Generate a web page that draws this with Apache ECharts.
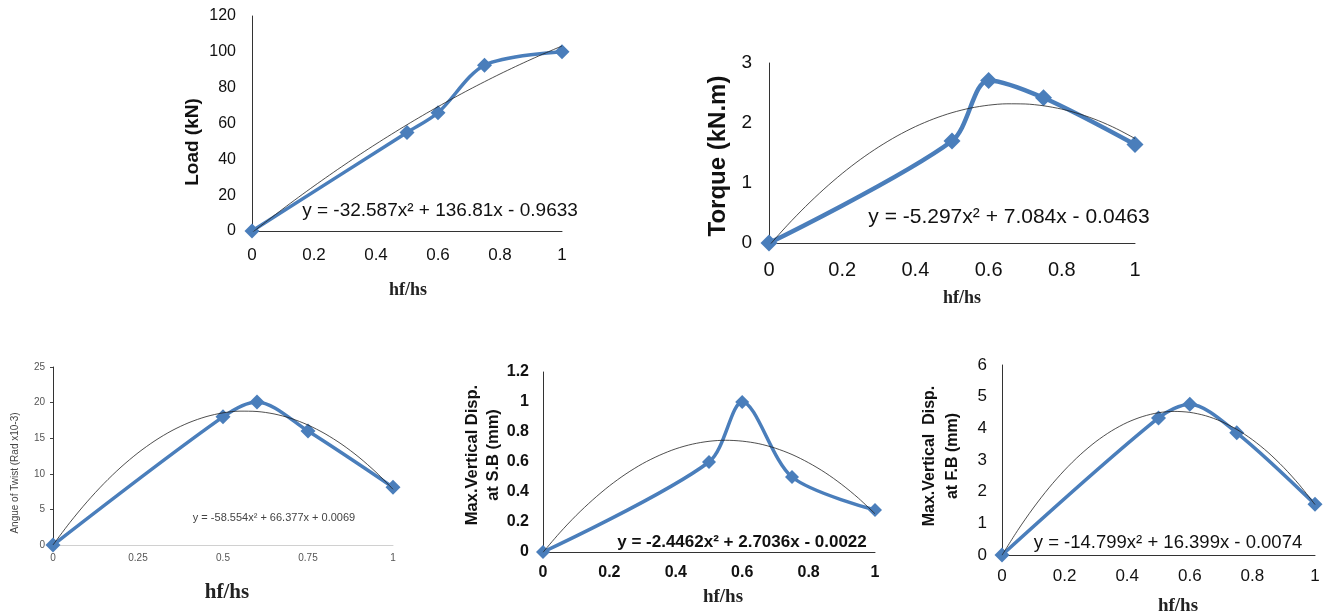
<!DOCTYPE html>
<html><head><meta charset="utf-8">
<script src="https://cdn.jsdelivr.net/npm/echarts@6/dist/echarts.min.js"></script>
<style>html,body{margin:0;padding:0;background:#fff}#c{width:1330px;height:614px}</style>
</head><body><div id="c"></div>
<script>
// ---- data ----
const xRatio = [0, 0.5, 0.6, 0.75, 1];
const loadVals = [0, 55, 66, 92.5, 100];
const torqueVals = [0, 1.7, 2.71, 2.42, 1.64];
const twistVals = [0, 18, 20.1, 16, 8.1];
const sbVals = [0, 0.6, 1.0, 0.5, 0.28];
const fbVals = [0, 4.33, 4.76, 3.86, 1.6];
const trendX = [0, 0.05, 0.1, 0.15, 0.2, 0.25, 0.3, 0.35, 0.4, 0.45, 0.5, 0.55, 0.6, 0.65, 0.7, 0.75, 0.8, 0.85, 0.9, 0.95, 1.0];
const loadTrend = [-0.963, 5.796, 12.39, 18.83, 25.10, 31.20, 37.15, 42.93, 48.55, 54.00, 59.30, 64.43, 69.39, 74.20, 78.84, 83.31, 87.63, 91.78, 95.77, 99.60, 103.26];
const torqueTrend = [-0.046, 0.295, 0.609, 0.897, 1.159, 1.394, 1.602, 1.784, 1.940, 2.069, 2.172, 2.248, 2.297, 2.320, 2.317, 2.287, 2.231, 2.148, 2.039, 1.903, 1.741];
const twistTrend = [0.007, 3.179, 6.059, 8.646, 10.94, 12.94, 14.65, 16.07, 17.19, 18.02, 18.56, 18.80, 18.75, 18.41, 17.78, 16.85, 15.63, 14.12, 12.32, 10.22, 7.83];
const sbTrend = [-0.002, 0.127, 0.244, 0.348, 0.441, 0.521, 0.589, 0.644, 0.688, 0.719, 0.738, 0.745, 0.739, 0.722, 0.692, 0.650, 0.595, 0.529, 0.450, 0.359, 0.255];
const fbTrend = [-0.007, 0.776, 1.485, 2.120, 2.681, 3.167, 3.581, 3.919, 4.185, 4.375, 4.493, 4.535, 4.504, 4.399, 4.220, 3.967, 3.641, 3.240, 2.765, 2.216, 1.593];
const equations = [
  'y = -32.587x² + 136.81x - 0.9633',
  'y = -5.297x² + 7.084x - 0.0463',
  'y = -58.554x² + 66.377x + 0.0069',
  'y = -2.4462x² + 2.7036x - 0.0022',
  'y = -14.799x² + 16.399x - 0.0074'
];
const yNames = ['Load (kN)', 'Torque (kN.m)', 'Angue of Twist (Rad x10-3)',
  ['Max.Vertical Disp.', 'at S.B (mm)'], ['Max.Vertical  Disp.', 'at F.B (mm)']];
const xName = 'hf/hs';
const yMax = [120, 3, 25, 1.2, 6];
const yStep = [20, 1, 5, 0.2, 1];
const xStep = [0.2, 0.2, 0.25, 0.2, 0.2];

const pair = (xs, ys) => xs.map((x, i) => [x, ys[i]]);
const mainSets = [loadVals, torqueVals, twistVals, sbVals, fbVals];
const trendSets = [loadTrend, torqueTrend, twistTrend, sbTrend, fbTrend];

// ---- layout/style ----
const SANS = '"Liberation Sans", Arial, sans-serif';
const SERIF = '"Liberation Serif", "Times New Roman", serif';
const BLUE = '#4A7EBB';
const grids = [
  {left: 252, right: 768, top: 16, bottom: 383},
  {left: 769, right: 195, top: 63, bottom: 371},
  {left: 53, right: 937, top: 367, bottom: 69},
  {left: 543, right: 455, top: 372, bottom: 62},
  {left: 1002, right: 15, top: 365, bottom: 59}
];
const yLabelStyle = [
  {fontSize: 16, fontWeight: 'normal', color: '#111', margin: 16},
  {fontSize: 19, fontWeight: 'normal', color: '#111', margin: 17},
  {fontSize: 10, fontWeight: 'normal', color: '#555', margin: 8},
  {fontSize: 16, fontWeight: 'bold', color: '#111', margin: 14},
  {fontSize: 17, fontWeight: 'normal', color: '#111', margin: 15}
];
const xLabelStyle = [
  {fontSize: 17, fontWeight: 'normal', color: '#111', margin: 16},
  {fontSize: 20, fontWeight: 'normal', color: '#111', margin: 17},
  {fontSize: 10, fontWeight: 'normal', color: '#555', margin: 8},
  {fontSize: 16, fontWeight: 'bold', color: '#111', margin: 13},
  {fontSize: 17, fontWeight: 'normal', color: '#111', margin: 13}
];
const lineW = [3.5, 4.5, 3.5, 3.5, 3.5];
const symSize = [15, 17, 15, 14, 15];

const xAxes = [], yAxes = [], series = [];
for (let i = 0; i < 5; i++) {
  const ys = yLabelStyle[i], xs = xLabelStyle[i];
  xAxes.push({
    type: 'value', gridIndex: i, min: 0, max: 1, interval: xStep[i],
    axisLine: {lineStyle: {color: i === 2 ? '#d0d0d0' : '#333', width: 1}},
    axisTick: {show: false}, splitLine: {show: false},
    axisLabel: {fontFamily: SANS, fontSize: xs.fontSize, fontWeight: xs.fontWeight, color: xs.color, margin: xs.margin}
  });
  yAxes.push({
    type: 'value', gridIndex: i, min: 0, max: yMax[i], interval: yStep[i],
    axisLine: {show: true, lineStyle: {color: '#333', width: 1}},
    axisTick: {show: i === 2, inside: false, length: 3, lineStyle: {color: '#444'}},
    splitLine: {show: false},
    axisLabel: {fontFamily: SANS, fontSize: ys.fontSize, fontWeight: ys.fontWeight, color: ys.color, margin: ys.margin}
  });
  series.push({
    type: 'line', xAxisIndex: i, yAxisIndex: i, data: pair(trendX, trendSets[i]),
    smooth: 0.3, showSymbol: false, lineStyle: {color: '#222', width: 0.8}, z: 3, silent: true
  });
  series.push({
    type: 'line', xAxisIndex: i, yAxisIndex: i, data: pair(xRatio, mainSets[i]),
    smooth: 0.3, symbol: 'diamond', symbolSize: symSize[i],
    itemStyle: {color: BLUE}, lineStyle: {color: BLUE, width: lineW[i]}, z: 2, silent: true
  });
}

// ---- text elements ----
const g = [];
function txt(text, x, y, font, fill, rot) {
  g.push({type: 'text', x: x, y: y, rotation: rot || 0, z: 10,
    style: {text: text, x: 0, y: 0, font: font, fill: fill, align: 'center', verticalAlign: 'middle'}});
}
// y names
txt(yNames[0], 193, 142, 'bold 19px ' + SANS, '#111', Math.PI / 2);
txt(yNames[1], 718, 156, 'bold 24px ' + SANS, '#111', Math.PI / 2);
txt(yNames[2], 15, 473, '10px ' + SANS, '#444', Math.PI / 2);
txt(yNames[3][0], 472, 455, 'bold 16.5px ' + SANS, '#111', Math.PI / 2);
txt(yNames[3][1], 493, 455, 'bold 16.5px ' + SANS, '#111', Math.PI / 2);
txt(yNames[4][0], 930, 456, 'bold 16px ' + SANS, '#111', Math.PI / 2);
txt(yNames[4][1], 953, 456, 'bold 16px ' + SANS, '#111', Math.PI / 2);
// x names
txt(xName, 408, 290, 'bold 18px ' + SERIF, '#222', 0);
txt(xName, 962, 298, 'bold 18px ' + SERIF, '#222', 0);
txt(xName, 227, 593, 'bold 21px ' + SERIF, '#222', 0);
txt(xName, 723, 597, 'bold 19px ' + SERIF, '#222', 0);
txt(xName, 1178, 606, 'bold 19px ' + SERIF, '#222', 0);
// equations
txt(equations[0], 440, 211, '19px ' + SANS, '#111', 0);
txt(equations[1], 1009, 217, '21px ' + SANS, '#111', 0);
txt(equations[2], 274, 518, '11px ' + SANS, '#444', 0);
txt(equations[3], 742, 542, 'bold 17px ' + SANS, '#111', 0);
txt(equations[4], 1168, 543, '18.5px ' + SANS, '#111', 0);

const chart = echarts.init(document.getElementById('c'), null, {renderer: 'canvas'});
chart.setOption({
  animation: false,
  grid: grids,
  xAxis: xAxes,
  yAxis: yAxes,
  series: series,
  graphic: g
});
</script>
</body></html>
